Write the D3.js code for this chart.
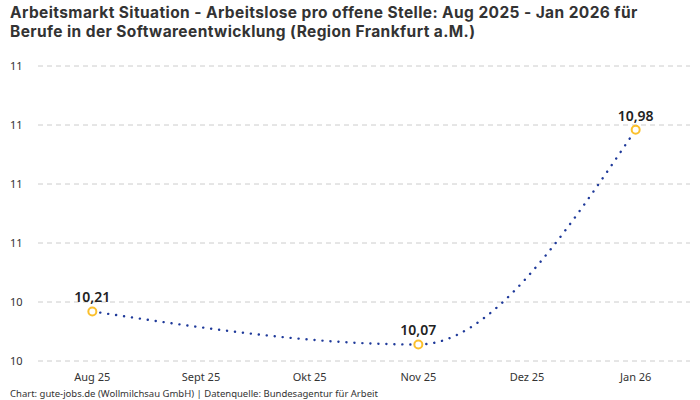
<!DOCTYPE html>
<html><head><meta charset="utf-8">
<script src="https://cdn.jsdelivr.net/npm/d3@7"></script>
<style>
body{margin:0;background:#fff;}
svg{display:block;font-family:"Noto Sans",Roboto,sans-serif;}
</style></head>
<body><svg id="c" width="700" height="400"></svg>
<script>
const titleLines = ["Arbeitsmarkt Situation - Arbeitslose pro offene Stelle: Aug 2025 - Jan 2026 für","Berufe in der Softwareentwicklung (Region Frankfurt a.M.)"];
const months = ["Aug 25","Sept 25","Okt 25","Nov 25","Dez 25","Jan 26"];
const values = [10.21, null, null, 10.07, null, 10.98];
const yTicks = [10, 10.25, 10.5, 10.75, 11, 11.25];
const footer = "Chart: gute-jobs.de (Wollmilchsau GmbH) | Datenquelle: Bundesagentur für Arbeit";

const svg = d3.select("#c");
const x = d3.scaleBand().domain(months).range([38, 690]);
const y = d3.scaleLinear().domain([10, 11.25]).range([361, 66]);
const cx = m => x(m) + x.bandwidth()/2;

svg.selectAll("text.title").data(titleLines).join("text")
  .attr("x", 10).attr("y", (d,i)=>18+i*19)
  .attr("font-family", "Inter, 'Noto Sans', sans-serif")
  .attr("font-size", 15.5).attr("letter-spacing", 0.4).attr("font-weight", 700).attr("fill", "#333")
  .text(d=>d);

const g = svg.append("g");
g.selectAll("line.grid").data(yTicks).join("line")
  .attr("x1", 38).attr("x2", 690)
  .attr("y1", d=>y(d)).attr("y2", d=>y(d))
  .attr("stroke", "#ccc").attr("stroke-width", 1).attr("stroke-dasharray", "5,4");
g.selectAll("text.yl").data(yTicks).join("text")
  .attr("x", 10).attr("y", d=>y(d)+4)
  .attr("font-size", 11).attr("fill", "#333")
  .text(d=>d3.format(".0f")(d));

g.selectAll("text.xl").data(months).join("text")
  .attr("x", d=>cx(d)).attr("y", 381).attr("text-anchor", "middle")
  .attr("font-size", 11).attr("fill", "#333")
  .text(d=>d);

const pts = months.map((m,i)=>({m, v: values[i]})).filter(d=>d.v!=null);
const line = d3.line().x(d=>cx(d.m)).y(d=>y(d.v)).curve(d3.curveMonotoneX);
g.append("path").datum(pts).attr("d", line)
  .attr("fill", "none").attr("stroke", "#1f3a9a").attr("stroke-width", 2.4)
  .attr("stroke-dasharray", "0.1,7.9").attr("stroke-linecap", "round");

g.selectAll("circle.pt").data(pts).join("circle")
  .attr("cx", d=>cx(d.m)).attr("cy", d=>y(d.v)).attr("r", 4)
  .attr("fill", "#fff").attr("stroke", "#FBC02D").attr("stroke-width", 2);

const fmt = d3.formatLocale({decimal:",",thousands:".",grouping:[3],currency:["","€"]}).format(".2f");
g.selectAll("text.dl").data(pts).join("text")
  .attr("x", d=>cx(d.m)).attr("y", d=>y(d.v)-9).attr("text-anchor", "middle")
  .attr("font-size", 14).attr("font-weight", 600).attr("fill", "#222")
  .text(d=>fmt(d.v));

svg.append("text").attr("x", 10).attr("y", 397).attr("font-size", 9.5).attr("fill", "#333").text(footer);
</script></body></html>
